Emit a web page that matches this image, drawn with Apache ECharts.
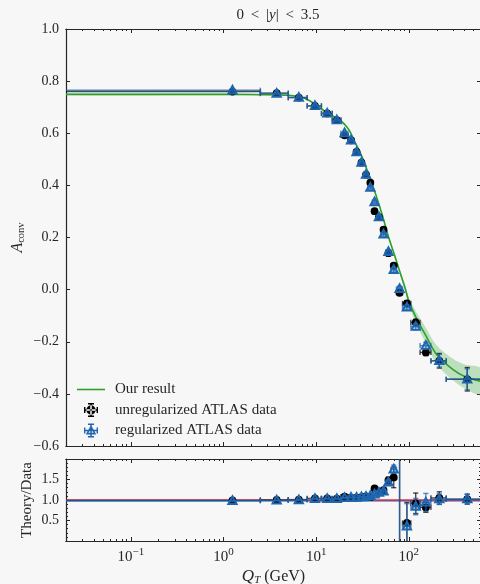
<!DOCTYPE html>
<html><head><meta charset="utf-8">
<script src="https://cdn.jsdelivr.net/npm/echarts@6/dist/echarts.min.js"></script>
<style>html,body{margin:0;padding:0;background:#f7f7f7}#c{width:480px;height:584px}</style>
</head><body><div id="c"></div><script>
// ---------------- data ----------------
const binEdges = [0, 2.5, 5.0, 8.0, 11.4, 14.9, 18.5, 22.0, 25.5, 29.0, 32.6, 36.4, 40.4, 44.9, 50.2, 56.4, 63.9, 73.4, 85.4, 105, 132, 173, 253, 600];
const qtCenters = [1.25, 3.75, 6.5, 9.7, 13.15, 16.7, 20.25, 23.75, 27.25, 30.8, 34.5, 38.4, 42.65, 47.55, 53.3, 60.15, 68.65, 79.4, 95.2, 118.5, 152.5, 213, 426.5];
const unregValues = [0.760, 0.754, 0.737, 0.705, 0.676, 0.650, 0.592, 0.573, 0.528, 0.487, 0.441, 0.410, 0.301, 0.278, 0.230, 0.140, 0.092, -0.012, -0.053, -0.126, -0.241, -0.273, -0.344];
const unregErrors = [0.006, 0.005, 0.005, 0.005, 0.005, 0.005, 0.005, 0.005, 0.005, 0.005, 0.005, 0.006, 0.006, 0.006, 0.007, 0.008, 0.009, 0.010, 0.010, 0.012, 0.012, 0.028, 0.045];
const regValues = [0.765, 0.752, 0.737, 0.705, 0.676, 0.650, 0.601, 0.573, 0.528, 0.487, 0.441, 0.391, 0.336, 0.278, 0.212, 0.145, 0.076, 0.003, -0.068, -0.142, -0.215, -0.273, -0.344];
const regErrors = [0.006, 0.005, 0.005, 0.005, 0.005, 0.005, 0.005, 0.005, 0.005, 0.005, 0.005, 0.006, 0.006, 0.006, 0.007, 0.008, 0.009, 0.010, 0.010, 0.012, 0.013, 0.024, 0.040];
const unregRatio = [0.99, 1.00, 1.01, 1.04, 1.04, 1.03, 1.08, 1.06, 1.06, 1.07, 1.09, 1.07, 1.28, 1.18, 1.24, 1.48, 1.55, 4.0, 0.44, 0.92, 0.82, 1.05, 1.02];
const unregRatioErr = [0.01, 0.01, 0.01, 0.01, 0.01, 0.01, 0.01, 0.01, 0.01, 0.01, 0.01, 0.02, 0.03, 0.03, 0.04, 0.08, 0.25, 5.0, 0.50, 0.25, 0.12, 0.15, 0.12];
const regRatio = [0.98, 0.99, 1.00, 1.03, 1.03, 1.03, 1.05, 1.06, 1.06, 1.07, 1.08, 1.10, 1.14, 1.18, 1.21, 1.43, 1.75, 4.0, 0.36, 0.84, 0.94, 1.02, 1.02];
const regRatioErr = [0.01, 0.01, 0.01, 0.01, 0.01, 0.01, 0.01, 0.01, 0.01, 0.01, 0.01, 0.02, 0.03, 0.03, 0.04, 0.06, 0.10, 5.0, 0.55, 0.20, 0.22, 0.13, 0.12];
const theoryQT = [0.02, 1, 3, 4.8, 6.7, 8.6, 11, 14, 18.2, 20, 22.7, 26, 29.3, 32.4, 38, 45.2, 52, 60, 70, 80, 90, 100, 120, 150, 200, 300, 400, 600];
const theoryValues = [0.749, 0.749, 0.748, 0.746, 0.740, 0.724, 0.697, 0.673, 0.650, 0.636, 0.612, 0.568, 0.532, 0.496, 0.428, 0.352, 0.283, 0.205, 0.133, 0.068, 0.012, -0.045, -0.108, -0.172, -0.250, -0.307, -0.333, -0.352];
const theoryBand = [0.003, 0.003, 0.003, 0.003, 0.003, 0.003, 0.003, 0.003, 0.003, 0.003, 0.003, 0.004, 0.004, 0.004, 0.004, 0.005, 0.005, 0.006, 0.007, 0.009, 0.012, 0.016, 0.022, 0.030, 0.036, 0.042, 0.046, 0.050];
const refLineRed = 1.0;
const refLineBlue = 0.98;
const xMajorTicks = [0.1, 1, 10, 100];
const xMinorTicks = [0.02,0.03,0.04,0.05,0.06,0.07,0.08,0.09,0.2,0.3,0.4,0.5,0.6,0.7,0.8,0.9,2,3,4,5,6,7,8,9,20,30,40,50,60,70,80,90,200,300,400,500,600];
const titleText = '0 \u2009<\u2009 |{i|y}| \u2009<\u2009 3.5';
const legendNames = ['Our result', 'unregularized ATLAS data', 'regularized ATLAS data'];

// ---------------- style ----------------
const X_MIN = 0.02, X_MAX = 600;
const AX = '#262626', TXT = '#262626';
const FONT = 'Liberation Serif';
const GREEN = '#2ca02c', BLUE = '#1f66b0', RED = '#e0304c';
const G_TOP = {left: 66, top: 29, width: 415, height: 417};
const G_BOT = {left: 66, top: 459, width: 415, height: 82};

function mkGrid(g) { return Object.assign({outerBoundsMode: 'none', containLabel: false, show: false}, g); }

function xAx(gi, pos, ticks, len, extra) {
  return Object.assign({
    type: 'log', logBase: 10, gridIndex: gi, position: pos, min: X_MIN, max: X_MAX,
    axisLine: {show: true, onZero: false, lineStyle: {color: AX, width: 1.2}},
    axisTick: {show: true, inside: true, length: len, customValues: ticks, lineStyle: {color: AX, width: 1}},
    axisLabel: {show: false}, splitLine: {show: false}, minorTick: {show: false}
  }, extra || {});
}
function yAx(gi, pos, min, max, interval, extra) {
  return Object.assign({
    type: 'value', gridIndex: gi, position: pos, min: min, max: max, interval: interval,
    axisLine: {show: true, onZero: false, lineStyle: {color: AX, width: 1.2}},
    axisTick: {show: true, inside: true, length: 4, lineStyle: {color: AX, width: 1}},
    axisLabel: {show: false}, splitLine: {show: false}
  }, extra || {});
}
function fmtNum(v) {
  if (Math.abs(v) < 1e-9) return '0.0';
  return (v < 0 ? '\u2212' : '') + Math.abs(v).toFixed(1);
}
const supRich = {sup: {fontSize: 11, fontFamily: FONT, color: TXT, padding: [0, 0, 9, 0]}};

function buildErr(values, errs) {
  return qtCenters.map((q, i) => [q, values[i], binEdges[i], binEdges[i + 1], errs[i]]);
}

function makeRender(kind, lineCol) {
  return function (params, api) {
    const x = api.value(0), y = api.value(1);
    const xl0 = api.value(2), xh0 = api.value(3);
    const xl = Math.max(xl0, X_MIN), xh = Math.min(xh0, X_MAX);
    const e = api.value(4);
    const c = api.coord([x, y]);
    const l = api.coord([xl, y]), r = api.coord([xh, y]);
    const t = api.coord([x, y + e]), b = api.coord([x, y - e]);
    const cap = 2.6;
    const ls = {stroke: lineCol, lineWidth: 1.4, fill: null};
    const ch = [];
    ch.push({type: 'line', shape: {x1: l[0], y1: l[1], x2: r[0], y2: r[1]}, style: ls});
    if (xl0 >= X_MIN) ch.push({type: 'line', shape: {x1: l[0], y1: l[1] - cap, x2: l[0], y2: l[1] + cap}, style: ls});
    ch.push({type: 'line', shape: {x1: r[0], y1: r[1] - cap, x2: r[0], y2: r[1] + cap}, style: ls});
    ch.push({type: 'line', shape: {x1: t[0], y1: t[1], x2: b[0], y2: b[1]}, style: ls});
    ch.push({type: 'line', shape: {x1: t[0] - cap, y1: t[1], x2: t[0] + cap, y2: t[1]}, style: ls});
    ch.push({type: 'line', shape: {x1: b[0] - cap, y1: b[1], x2: b[0] + cap, y2: b[1]}, style: ls});
    if (kind === 'circle') {
      ch.push({type: 'circle', shape: {cx: c[0], cy: c[1], r: 3.9}, style: {fill: '#000'}});
    } else {
      ch.push({type: 'polygon', shape: {points: [[c[0], c[1] - 4.6], [c[0] + 4.2, c[1] + 3.2], [c[0] - 4.2, c[1] + 3.2]]},
        style: {fill: 'rgba(31,102,176,0.3)', stroke: BLUE, lineWidth: 1.9}});
    }
    return {type: 'group', children: ch};
  };
}

function renderBand(params, api) {
  if (params.dataIndex !== 0) return null;
  const up = [], lo = [];
  for (let i = 0; i < theoryQT.length; i++) {
    up.push(api.coord([theoryQT[i], theoryValues[i] + theoryBand[i]]));
    lo.push(api.coord([theoryQT[i], theoryValues[i] - theoryBand[i]]));
  }
  return {type: 'polygon', shape: {points: up.concat(lo.reverse()), smooth: 0.3},
    style: {fill: 'rgba(44,160,44,0.28)'}};
}

const theoryLine = theoryQT.map((q, i) => [q, theoryValues[i]]);
const bandData = theoryQT.map((q, i) => [q, theoryValues[i] - theoryBand[i], theoryValues[i] + theoryBand[i]]);

const iconLine = 'path://M0,0 L28,0 L28,1.6 L0,1.6 Z';
const iconErr = 'path://M1,6.35 L13,6.35 L13,7.65 L1,7.65 Z M6.35,1 L7.65,1 L7.65,13 L6.35,13 Z M4.4,1 L9.6,1 L9.6,2.2 L4.4,2.2 Z M4.4,11.8 L9.6,11.8 L9.6,13 L4.4,13 Z M1,4.4 L2.2,4.4 L2.2,9.6 L1,9.6 Z M11.8,4.4 L13,4.4 L13,9.6 L11.8,9.6 Z M3,7 A4,4 0 1 0 11,7 A4,4 0 1 0 3,7 Z';
const iconTri = 'path://M1,6.35 L13,6.35 L13,7.65 L1,7.65 Z M6.35,1 L7.65,1 L7.65,13 L6.35,13 Z M4.4,1 L9.6,1 L9.6,2.2 L4.4,2.2 Z M4.4,11.8 L9.6,11.8 L9.6,13 L4.4,13 Z M1,4.4 L2.2,4.4 L2.2,9.6 L1,9.6 Z M11.8,4.4 L13,4.4 L13,9.6 L11.8,9.6 Z M7,2.2 L11.5,10.4 L2.5,10.4 Z M7,5.1 L4.8,9.0 L9.2,9.0 Z';

const option = {
  animation: false,
  backgroundColor: '#f7f7f7',
  textStyle: {fontFamily: FONT, color: TXT},
  title: {
    text: titleText, left: 273, top: 3, textAlign: 'center',
    textStyle: {fontFamily: FONT, fontSize: 15, fontWeight: 'normal', color: TXT,
      rich: {i: {fontStyle: 'italic', fontFamily: FONT, fontSize: 15, color: TXT}}}
  },
  legend: {
    orient: 'vertical', left: 72, top: 377, itemWidth: 28, itemHeight: 14, itemGap: 5.5,
    selectedMode: false, symbolKeepAspect: true,
    textStyle: {fontFamily: FONT, fontSize: 15, color: TXT, padding: [0, 0, 0, 5]},
    itemStyle: {borderWidth: 0},
    data: [
      {name: legendNames[0], icon: iconLine, itemStyle: {color: GREEN}},
      {name: legendNames[1], icon: iconErr, itemStyle: {color: '#000'}},
      {name: legendNames[2], icon: iconTri, itemStyle: {color: BLUE}}
    ]
  },
  grid: [mkGrid(G_TOP), mkGrid(G_BOT), mkGrid(G_TOP), mkGrid(G_BOT)],
  xAxis: [
    xAx(0, 'bottom', xMajorTicks, 4),
    xAx(0, 'top', xMajorTicks, 4),
    xAx(1, 'bottom', xMajorTicks, 4, {
      axisLabel: {show: true, customValues: xMajorTicks, margin: 6, fontSize: 15, fontFamily: FONT, color: TXT,
        formatter: v => '10{sup|' + String(Math.round(Math.log10(v))).replace('-', '\u2212') + '}',
        rich: supRich},
      name: '{i|Q}{sub|T} (GeV)', nameLocation: 'middle', nameGap: 27, nameMoveOverlap: false,
      nameTextStyle: {fontFamily: FONT, fontSize: 16, color: TXT,
        rich: {i: {fontStyle: 'italic', fontSize: 17, fontFamily: FONT, color: TXT},
               sub: {fontStyle: 'italic', fontSize: 11, fontFamily: FONT, color: TXT, padding: [7, 0, 0, 0]}}}
    }),
    xAx(1, 'top', xMajorTicks, 4),
    xAx(2, 'bottom', xMinorTicks, 2),
    xAx(2, 'top', xMinorTicks, 2),
    xAx(3, 'bottom', xMinorTicks, 2),
    xAx(3, 'top', xMinorTicks, 2)
  ],
  yAxis: [
    yAx(0, 'left', -0.6, 1.0, 0.2, {
      axisLabel: {show: true, margin: 7, fontSize: 14, fontFamily: FONT, color: TXT, formatter: fmtNum},
      name: '{i|A}{sub|conv}', nameLocation: 'middle', nameGap: 39, nameMoveOverlap: false,
      nameTextStyle: {fontFamily: FONT, fontSize: 15, color: TXT,
        rich: {i: {fontStyle: 'italic', fontSize: 16, fontFamily: FONT, color: TXT},
               sub: {fontSize: 10.5, fontFamily: FONT, color: TXT, padding: [7, 0, 0, 0]}}}
    }),
    yAx(0, 'right', -0.6, 1.0, 0.2),
    yAx(1, 'left', 0, 2, 0.5, {
      minorTick: {show: true, splitNumber: 5, length: 2, lineStyle: {color: AX, width: 1}},
      axisLabel: {show: true, margin: 7, fontSize: 14, fontFamily: FONT, color: TXT,
        formatter: v => (v > 0.01 && v < 1.99) ? v.toFixed(1) : ''},
      name: 'Theory/Data', nameLocation: 'middle', nameGap: 31, nameMoveOverlap: false,
      nameTextStyle: {fontFamily: FONT, fontSize: 15, color: TXT}
    }),
    yAx(1, 'right', 0, 2, 0.5, {minorTick: {show: true, splitNumber: 5, length: 2, lineStyle: {color: AX, width: 1}}}),
    {type: 'value', gridIndex: 2, show: false, min: 0, max: 1},
    {type: 'value', gridIndex: 3, show: false, min: 0, max: 1}
  ],
  series: [
    {name: '_band', type: 'custom', xAxisIndex: 0, yAxisIndex: 0, data: bandData, encode: {x: 0, y: [1, 2]},
      clip: true, silent: true, renderItem: renderBand, z: 1},
    {name: legendNames[0], type: 'line', xAxisIndex: 0, yAxisIndex: 0, data: theoryLine, symbol: 'none', smooth: 0.3,
      color: GREEN, lineStyle: {color: GREEN, width: 1.6}, z: 3},
    {name: legendNames[1], type: 'custom', xAxisIndex: 0, yAxisIndex: 0, color: '#000', clip: true,
      data: buildErr(unregValues, unregErrors), encode: {x: 0, y: 1},
      renderItem: makeRender('circle', 'rgba(0,0,0,0.7)'), z: 4},
    {name: legendNames[2], type: 'custom', xAxisIndex: 0, yAxisIndex: 0, color: BLUE, clip: true,
      data: buildErr(regValues, regErrors), encode: {x: 0, y: 1},
      renderItem: makeRender('tri', 'rgba(31,102,176,0.75)'), z: 5},
    {name: '_refBlue', type: 'line', xAxisIndex: 2, yAxisIndex: 2, data: [[X_MIN, refLineBlue], [X_MAX, refLineBlue]],
      symbol: 'none', silent: true, lineStyle: {color: BLUE, width: 1.5}, z: 2},
    {name: '_refRed', type: 'line', xAxisIndex: 2, yAxisIndex: 2, data: [[X_MIN, refLineRed], [X_MAX, refLineRed]],
      symbol: 'none', silent: true, lineStyle: {color: RED, width: 1.3}, z: 2},
    {name: legendNames[1], type: 'custom', xAxisIndex: 2, yAxisIndex: 2, color: '#000', clip: true,
      data: buildErr(unregRatio, unregRatioErr), encode: {x: 0, y: 1},
      renderItem: makeRender('circle', 'rgba(0,0,0,0.7)'), z: 4},
    {name: legendNames[2], type: 'custom', xAxisIndex: 2, yAxisIndex: 2, color: BLUE, clip: true,
      data: buildErr(regRatio, regRatioErr), encode: {x: 0, y: 1},
      renderItem: makeRender('tri', 'rgba(31,102,176,0.75)'), z: 5}
  ]
};
const chart = echarts.init(document.getElementById('c'), null, {renderer: 'canvas'});
chart.setOption(option);
</script></body></html>
